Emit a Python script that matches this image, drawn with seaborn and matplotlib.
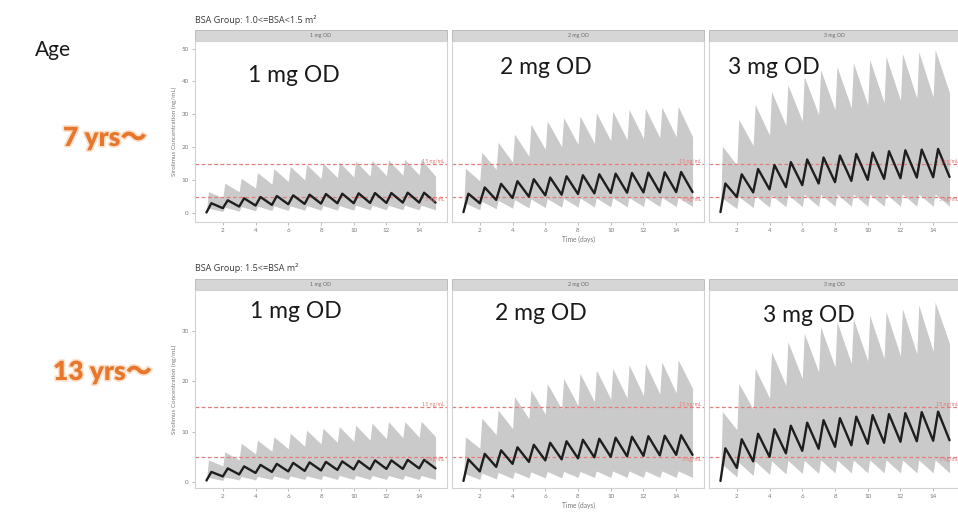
import numpy as np
import pandas as pd
import seaborn as sns
import matplotlib.pyplot as plt
import matplotlib.patheffects as pe
from matplotlib.patches import Rectangle

sns.set_theme(style="white")
plt.rcParams['font.family'] = ['Lato', 'Noto Sans CJK JP', 'DejaVu Sans']

# time grid: trough just before each daily dose, peak shortly after it
trough_days = [1, 2, 3, 4, 5, 6, 7, 8, 9, 10, 11, 12, 13, 14, 15]
med_peak_days = [1.3, 2.3, 3.3, 4.3, 5.3, 6.3, 7.3, 8.3, 9.3, 10.3, 11.3, 12.3, 13.3, 14.3]
band_peak_days = [1.12, 2.12, 3.12, 4.12, 5.12, 6.12, 7.12, 8.12, 9.12, 10.12, 11.12, 12.12, 13.12, 14.12]

doses = ["1 mg OD", "2 mg OD", "3 mg OD"]
bsa_groups = ["BSA Group: 1.0<=BSA<1.5 m\u00b2", "BSA Group: 1.5<=BSA m\u00b2"]
age_labels = ["7 yrs\uff5e", "13 yrs\uff5e"]
targets = [5, 15]

# ---- BSA 1.0-1.5 (7 yrs) ----
g1_1mg_med_tr = [0.2, 1.5, 2.0, 2.3, 2.5, 2.7, 2.8, 2.9, 3.0, 3.0, 3.1, 3.1, 3.2, 3.2, 3.2]
g1_1mg_med_pk = [3.0, 3.9, 4.5, 4.9, 5.2, 5.4, 5.6, 5.8, 5.9, 6.0, 6.1, 6.1, 6.2, 6.2]
g1_1mg_hi_tr = [0.3, 4.7, 6.5, 7.6, 8.8, 9.6, 10.1, 10.5, 10.8, 11.0, 11.2, 11.4, 11.5, 11.6, 11.2]
g1_1mg_hi_pk = [6.5, 9.1, 10.6, 12.3, 13.5, 14.2, 14.8, 15.2, 15.5, 15.8, 16.0, 16.2, 16.3, 16.4]
g1_1mg_lo_tr = [0.1, 0.5, 0.6, 0.7, 0.8, 0.8, 0.9, 0.9, 0.9, 0.9, 1.0, 1.0, 1.0, 1.0, 1.0]
g1_1mg_lo_pk = [1.5, 1.8, 2.0, 2.1, 2.2, 2.2, 2.3, 2.3, 2.3, 2.4, 2.4, 2.4, 2.4, 2.4]

g1_2mg_med_tr = [0.3, 3.0, 4.0, 4.6, 5.0, 5.4, 5.6, 5.8, 6.0, 6.1, 6.2, 6.3, 6.3, 6.4, 6.4]
g1_2mg_med_pk = [5.9, 7.8, 8.9, 9.7, 10.3, 10.8, 11.2, 11.5, 11.8, 12.0, 12.2, 12.3, 12.4, 12.5]
g1_2mg_hi_tr = [0.5, 9.8, 13.3, 15.5, 17.3, 19.4, 20.2, 20.9, 21.2, 22.0, 22.3, 22.7, 22.9, 23.2, 23.2]
g1_2mg_hi_pk = [13.6, 18.5, 21.5, 24.0, 27.0, 28.0, 29.0, 29.5, 30.5, 31.0, 31.5, 31.8, 32.2, 32.5]
g1_2mg_lo_tr = [0.1, 1.0, 1.3, 1.5, 1.6, 1.7, 1.8, 1.8, 1.9, 1.9, 1.9, 2.0, 2.0, 2.0, 2.0]
g1_2mg_lo_pk = [3.0, 3.6, 3.9, 4.1, 4.3, 4.4, 4.5, 4.6, 4.6, 4.7, 4.7, 4.8, 4.8, 4.8]

g1_3mg_med_tr = [0.3, 4.9, 6.3, 7.2, 7.9, 8.5, 9.0, 9.4, 9.8, 10.1, 10.4, 10.6, 10.8, 10.9, 11.0]
g1_3mg_med_pk = [9.0, 11.8, 13.4, 14.6, 15.5, 16.3, 16.9, 17.5, 18.0, 18.4, 18.8, 19.1, 19.3, 19.5]
g1_3mg_hi_tr = [0.5, 14.6, 20.5, 23.7, 26.6, 28.0, 29.9, 31.4, 32.0, 32.9, 33.6, 34.3, 34.9, 35.3, 36.5]
g1_3mg_hi_pk = [20.3, 28.5, 33.0, 37.0, 39.0, 41.5, 43.6, 44.5, 45.7, 46.7, 47.6, 48.5, 49.0, 49.7]
g1_3mg_lo_tr = [0.2, 1.4, 1.7, 1.8, 1.9, 2.0, 2.0, 2.1, 2.1, 2.1, 2.1, 2.1, 2.1, 2.1, 2.1]
g1_3mg_lo_pk = [4.5, 5.0, 5.3, 5.5, 5.6, 5.7, 5.7, 5.8, 5.8, 5.8, 5.8, 5.8, 5.8, 5.8]

# ---- BSA >= 1.5 (13 yrs) ----
g2_1mg_med_tr = [0.3, 1.1, 1.5, 1.8, 2.0, 2.1, 2.2, 2.3, 2.4, 2.5, 2.5, 2.6, 2.6, 2.7, 2.7]
g2_1mg_med_pk = [2.0, 2.7, 3.1, 3.4, 3.6, 3.8, 3.9, 4.0, 4.1, 4.2, 4.3, 4.3, 4.4, 4.4]
g2_1mg_hi_tr = [0.3, 3.2, 4.4, 5.6, 6.1, 6.6, 7.1, 7.6, 7.9, 8.1, 8.3, 8.6, 8.8, 8.9, 9.0]
g2_1mg_hi_pk = [4.4, 6.0, 7.7, 8.3, 9.0, 9.7, 10.3, 10.7, 11.0, 11.3, 11.7, 12.0, 12.0, 12.1]
g2_1mg_lo_tr = [0.1, 0.3, 0.4, 0.4, 0.5, 0.5, 0.5, 0.5, 0.5, 0.5, 0.5, 0.5, 0.5, 0.5, 0.5]
g2_1mg_lo_pk = [0.9, 1.0, 1.1, 1.1, 1.2, 1.2, 1.2, 1.3, 1.3, 1.3, 1.3, 1.3, 1.3, 1.3]

g2_2mg_med_tr = [0.2, 2.1, 3.0, 3.6, 4.0, 4.3, 4.5, 4.7, 4.9, 5.0, 5.1, 5.2, 5.3, 5.4, 5.4]
g2_2mg_med_pk = [4.5, 5.6, 6.3, 6.9, 7.4, 7.8, 8.1, 8.4, 8.6, 8.8, 9.0, 9.1, 9.2, 9.3]
g2_2mg_hi_tr = [0.3, 6.7, 9.4, 10.6, 12.6, 13.5, 14.5, 15.2, 16.0, 16.5, 16.7, 17.2, 17.5, 17.7, 18.6]
g2_2mg_hi_pk = [9.0, 12.7, 14.3, 17.0, 18.3, 19.6, 20.6, 21.6, 22.3, 22.6, 23.3, 23.6, 23.9, 24.3]
g2_2mg_lo_tr = [0.1, 0.5, 0.6, 0.7, 0.8, 0.8, 0.8, 0.9, 0.9, 0.9, 0.9, 0.9, 0.9, 0.9, 0.9]
g2_2mg_lo_pk = [1.6, 1.8, 1.9, 2.0, 2.0, 2.1, 2.1, 2.1, 2.2, 2.2, 2.2, 2.2, 2.2, 2.2]

g2_3mg_med_tr = [0.2, 2.8, 4.1, 5.0, 5.7, 6.2, 6.6, 7.0, 7.3, 7.6, 7.8, 8.0, 8.1, 8.2, 8.3]
g2_3mg_med_pk = [6.7, 8.5, 9.6, 10.5, 11.2, 11.8, 12.3, 12.7, 13.0, 13.3, 13.5, 13.7, 13.9, 14.0]
g2_3mg_hi_tr = [0.3, 10.4, 14.5, 16.7, 19.2, 20.6, 21.9, 22.9, 23.6, 24.1, 24.6, 25.1, 25.5, 26.0, 27.5]
g2_3mg_hi_pk = [14.0, 19.6, 22.6, 25.9, 27.9, 29.6, 30.9, 31.9, 32.5, 33.2, 33.9, 34.5, 35.2, 35.8]
g2_3mg_lo_tr = [0.1, 1.0, 1.3, 1.5, 1.6, 1.7, 1.7, 1.8, 1.8, 1.8, 1.8, 1.8, 1.8, 1.8, 1.8]
g2_3mg_lo_pk = [3.5, 3.9, 4.1, 4.2, 4.3, 4.3, 4.4, 4.4, 4.4, 4.4, 4.4, 4.4, 4.4, 4.4]

panels = {
    (0, 0): (g1_1mg_med_tr, g1_1mg_med_pk, g1_1mg_lo_tr, g1_1mg_lo_pk, g1_1mg_hi_tr, g1_1mg_hi_pk),
    (0, 1): (g1_2mg_med_tr, g1_2mg_med_pk, g1_2mg_lo_tr, g1_2mg_lo_pk, g1_2mg_hi_tr, g1_2mg_hi_pk),
    (0, 2): (g1_3mg_med_tr, g1_3mg_med_pk, g1_3mg_lo_tr, g1_3mg_lo_pk, g1_3mg_hi_tr, g1_3mg_hi_pk),
    (1, 0): (g2_1mg_med_tr, g2_1mg_med_pk, g2_1mg_lo_tr, g2_1mg_lo_pk, g2_1mg_hi_tr, g2_1mg_hi_pk),
    (1, 1): (g2_2mg_med_tr, g2_2mg_med_pk, g2_2mg_lo_tr, g2_2mg_lo_pk, g2_2mg_hi_tr, g2_2mg_hi_pk),
    (1, 2): (g2_3mg_med_tr, g2_3mg_med_pk, g2_3mg_lo_tr, g2_3mg_lo_pk, g2_3mg_hi_tr, g2_3mg_hi_pk),
}


def zigzag(troughs, peaks, peak_days):
    # interleave trough / peak values on the dosing time grid
    t, v = [], []
    for i in range(len(peaks)):
        t += [trough_days[i], peak_days[i]]
        v += [troughs[i], peaks[i]]
    t.append(trough_days[-1])
    v.append(troughs[-1])
    return t, v


med_rows, band_rows = [], []
for (r, c), (mtr, mpk, ltr, lpk, htr, hpk) in panels.items():
    t, med = zigzag(mtr, mpk, med_peak_days)
    for ti, m in zip(t, med):
        med_rows.append({"row": r, "dose": doses[c], "day": ti, "conc": m})
    tb, lo = zigzag(ltr, lpk, band_peak_days)
    _, hi = zigzag(htr, hpk, band_peak_days)
    for ti, l, h in zip(tb, lo, hi):
        band_rows.append({"row": r, "dose": doses[c], "day": ti, "lo": l, "hi": h})
df_med = pd.DataFrame(med_rows)
df_band = pd.DataFrame(band_rows)

W, H = 958, 517
fig = plt.figure(figsize=(W / 100, H / 100), dpi=100)
fig.patch.set_facecolor("white")

col_left = [195, 452, 709]
col_w = 252
row_top = [41, 290]
row_bot = [222, 488]
ylims = [(-2.7, 52.3), (-1.2, 38.2)]
yticks = [[0, 10, 20, 30, 40, 50], [0, 10, 20, 30]]
title_y = [20, 268]
strip_px = 11

grey_txt = "#7a7a7a"
red = "#e27d7a"

for r in range(2):
    fig.text(col_left[0] / W, 1 - title_y[r] / H, bsa_groups[r], fontsize=6.5,
             color="#3a3a3a", ha="left", va="center", family=["Open Sans", "DejaVu Sans"])
    for c in range(3):
        h_px = row_bot[r] - row_top[r]
        ax = fig.add_axes([col_left[c] / W, 1 - row_bot[r] / H, col_w / W, h_px / H])
        band = df_band[(df_band["row"] == r) & (df_band["dose"] == doses[c])]
        med = df_med[(df_med["row"] == r) & (df_med["dose"] == doses[c])]
        ax.fill_between(band["day"], band["lo"], band["hi"], color="#cacaca", lw=0, zorder=1)
        sns.lineplot(data=med, x="day", y="conc", ax=ax, color="#1e1e1e", lw=1.7,
                     estimator=None, sort=False, zorder=3)
        for tv in targets:
            ax.axhline(tv, color=red, lw=0.9, ls=(0, (3, 2)), zorder=2)
        ax.text(15.55, 15, "15 ng/mL", fontsize=3.8, color=red, ha="right", va="bottom")
        ax.text(15.55, 5, "5 ng/mL", fontsize=3.8, color=red, ha="right", va="top")

        ax.set_xlim(0.3, 15.7)
        ax.set_ylim(*ylims[r])
        ax.set_xticks([2, 4, 6, 8, 10, 12, 14])
        ax.set_yticks(yticks[r])
        ax.tick_params(axis="both", length=2.5, width=0.6, color="#b0b0b0",
                       labelsize=4.5, labelcolor=grey_txt, pad=2)
        ax.tick_params(axis="x", bottom=True)
        ax.tick_params(axis="y", left=True)
        if c > 0:
            ax.set_yticklabels([])
            ax.tick_params(axis="y", left=False)
            ax.set_ylabel("")
        else:
            ax.set_ylabel("Sirolimus Concentration (ng/mL)", fontsize=4.5, color=grey_txt, labelpad=3)
        if c == 1:
            ax.set_xlabel("Time (days)", fontsize=4.8, color=grey_txt, labelpad=2)
        else:
            ax.set_xlabel("")
        for s in ax.spines.values():
            s.set_color("#d2d2d2")
            s.set_linewidth(0.8)
        ax.set_facecolor("white")

        # facet strip
        sh = strip_px / h_px
        ax.add_patch(Rectangle((0, 1), 1, sh, transform=ax.transAxes, clip_on=False,
                               fc="#d6d6d6", ec="#b5b5b5", lw=0.6))
        ax.text(0.5, 1 + sh / 2, doses[c], transform=ax.transAxes, fontsize=3.8,
                color="#6a6a6a", ha="center", va="center")

# large overlay labels
big = [(248, 75, doses[0]), (500, 68, doses[1]), (728, 68, doses[2]),
       (250, 312, doses[0]), (495, 313, doses[1]), (763, 315, doses[2])]
for x, y, s in big:
    fig.text(x / W, 1 - y / H, s, fontsize=16.5, color="#1a1a1a", ha="left", va="center",
             family=["Lato", "DejaVu Sans"])

fig.text(35 / W, 1 - 50 / H, "Age", fontsize=15, color="#1a1a1a", ha="left", va="center")
for (x, y), s in zip([(63, 138), (53, 372)], age_labels):
    fig.text(x / W, 1 - y / H, s, fontsize=19, fontweight="heavy", color="#e8772e",
             ha="left", va="center", family=["Lato", "Noto Sans CJK JP", "DejaVu Sans"],
             path_effects=[pe.withStroke(linewidth=2.4, foreground="#fbe0cc")])

fig.savefig("out.png", dpi=100, facecolor="white")
